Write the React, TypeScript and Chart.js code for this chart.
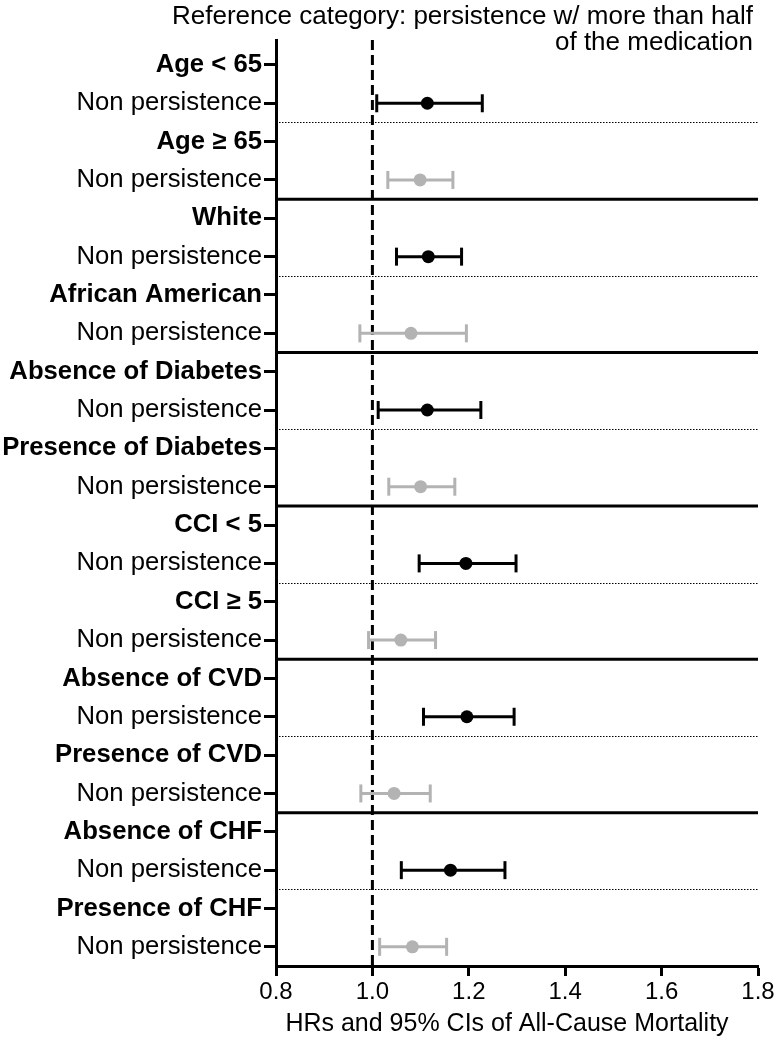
import { useEffect, useRef } from "react";
import { Chart, registerables } from "chart.js";
Chart.register(...registerables);

const rowLabels = [
  "Age < 65", "Non persistence",
  "Age ≥ 65", "Non persistence",
  "White", "Non persistence",
  "African American", "Non persistence",
  "Absence of Diabetes", "Non persistence",
  "Presence of Diabetes", "Non persistence",
  "CCI < 5", "Non persistence",
  "CCI ≥ 5", "Non persistence",
  "Absence of CVD", "Non persistence",
  "Presence of CVD", "Non persistence",
  "Absence of CHF", "Non persistence",
  "Presence of CHF", "Non persistence",
];
const headerRows = [0, 2, 4, 6, 8, 10, 12, 14, 16, 18, 20, 22];
const estimateRows = [1, 3, 5, 7, 9, 11, 13, 15, 17, 19, 21, 23];
const hr = [1.114, 1.099, 1.116, 1.080, 1.114, 1.100, 1.194, 1.059, 1.196, 1.045, 1.162, 1.083];
const ciLow = [1.009, 1.032, 1.050, 0.974, 1.012, 1.034, 1.097, 0.992, 1.106, 0.976, 1.060, 1.015];
const ciHigh = [1.228, 1.167, 1.185, 1.195, 1.225, 1.171, 1.298, 1.131, 1.294, 1.120, 1.275, 1.154];
const rowColors = ["#000000", "#b3b3b3", "#000000", "#b3b3b3", "#000000", "#b3b3b3", "#000000", "#b3b3b3", "#000000", "#b3b3b3", "#000000", "#b3b3b3"];
const dottedSeparators = [1.5, 5.5, 9.5, 13.5, 17.5, 21.5];
const solidSeparators = [3.5, 7.5, 11.5, 15.5, 19.5];
const xTicks = [0.8, 1.0, 1.2, 1.4, 1.6, 1.8];
const referenceHR = 1.0;
const titleLines = ["Reference category: persistence w/ more than half", "of the medication"];
const xTitle = "HRs and 95% CIs of All-Cause Mortality";

const FONT = "'Liberation Sans', Arial, Helvetica, sans-serif";

const linesPlugin = {
  id: "forestLines",
  beforeDatasetsDraw(chart: any) {
    const { ctx, scales, chartArea } = chart;
    const xs = scales.x;
    const ys = scales.y;
    ctx.save();
    ctx.strokeStyle = "#000";
    ctx.lineWidth = 1;
    ctx.setLineDash([1.5, 1.5]);
    dottedSeparators.forEach((v) => {
      const y = Math.round(ys.getPixelForValue(v)) + 0.5;
      ctx.beginPath();
      ctx.moveTo(chartArea.left, y);
      ctx.lineTo(chartArea.right, y);
      ctx.stroke();
    });
    ctx.setLineDash([]);
    ctx.lineWidth = 3;
    solidSeparators.forEach((v) => {
      const y = ys.getPixelForValue(v);
      ctx.beginPath();
      ctx.moveTo(chartArea.left, y);
      ctx.lineTo(chartArea.right, y);
      ctx.stroke();
    });
    ctx.lineWidth = 3;
    ctx.setLineDash([10, 5]);
    const x = xs.getPixelForValue(referenceHR);
    ctx.beginPath();
    ctx.moveTo(x, chartArea.top);
    ctx.lineTo(x, chartArea.bottom);
    ctx.stroke();
    ctx.restore();
  },
  afterDraw(chart: any) {
    const { ctx, chartArea } = chart;
    ctx.save();
    ctx.fillStyle = "#000";
    ctx.font = `26px ${FONT}`;
    ctx.textAlign = "right";
    ctx.textBaseline = "alphabetic";
    titleLines.forEach((t, i) => {
      ctx.fillText(t, chartArea.right - 5, 24 + i * 26);
    });
    ctx.font = `25px ${FONT}`;
    ctx.textAlign = "center";
    ctx.textBaseline = "middle";
    ctx.fillText(xTitle, (chartArea.left + chartArea.right) / 2 - 10, 1024);
    ctx.restore();
  },
};

export default function App() {
  const ref = useRef<HTMLCanvasElement>(null);
  useEffect(() => {
    if (!ref.current) return;
    const errorSets = estimateRows.map((row, i) => ({
      type: "line" as const,
      data: [
        { x: ciLow[i], y: row },
        { x: ciHigh[i], y: row },
      ],
      borderColor: rowColors[i],
      borderWidth: 3,
      pointStyle: "line" as const,
      pointRotation: 90,
      pointRadius: 9,
      pointBorderWidth: 3,
      pointBorderColor: rowColors[i],
      pointBackgroundColor: rowColors[i],
      order: 2,
    }));
    const chart = new Chart(ref.current, {
      type: "scatter",
      data: {
        datasets: [
          {
            type: "scatter",
            data: estimateRows.map((row, i) => ({ x: hr[i], y: row })),
            pointRadius: 6.5,
            pointBackgroundColor: rowColors,
            pointBorderColor: rowColors,
            pointBorderWidth: 0,
            order: 1,
          } as any,
          ...errorSets,
        ],
      },
      options: {
        responsive: false,
        animation: false,
        layout: { padding: { top: 40, right: 21, left: 0, bottom: 0 } },
        plugins: {
          legend: { display: false },
          tooltip: { enabled: false },
          title: { display: false },
        },
        scales: {
          x: {
            type: "linear",
            min: 0.8,
            max: 1.8,
            afterBuildTicks: (s: any) => {
              s.ticks = xTicks.map((v) => ({ value: v }));
            },
            afterFit: (s: any) => {
              s.height = 77;
            },
            ticks: {
              callback: (v: any) => Number(v).toFixed(1),
              color: "#000",
              font: { family: FONT, size: 24 },
              padding: 2,
              maxRotation: 0,
            },
            grid: {
              drawOnChartArea: false,
              drawTicks: true,
              tickLength: 10,
              tickWidth: 3,
              tickColor: "#000",
            },
            border: { display: true, width: 3, color: "#000" },
          },
          y: {
            type: "linear",
            reverse: true,
            min: -0.65,
            max: 23.5,
            afterBuildTicks: (s: any) => {
              s.ticks = rowLabels.map((_, i) => ({ value: i }));
            },
            afterFit: (s: any) => {
              s.width = 276;
            },
            ticks: {
              autoSkip: false,
              callback: (v: any) => rowLabels[v as number] ?? "",
              color: "#000",
              padding: 2,
              font: (c: any) => ({
                family: FONT,
                size: 25.7,
                weight: headerRows.includes(c.tick?.value) ? "bold" : "normal",
              }),
            },
            grid: {
              drawOnChartArea: false,
              drawTicks: true,
              tickLength: 12,
              tickWidth: 3,
              tickColor: "#000",
            },
            border: { display: true, width: 3, color: "#000" },
          },
        },
      },
      plugins: [linesPlugin],
    } as any);
    return () => chart.destroy();
  }, []);
  return (
    <div style={{ position: "fixed", left: 0, top: 0, width: 779, height: 1043, background: "#fff" }}>
      <canvas ref={ref} width={779} height={1043} style={{ display: "block" }} />
    </div>
  );
}
